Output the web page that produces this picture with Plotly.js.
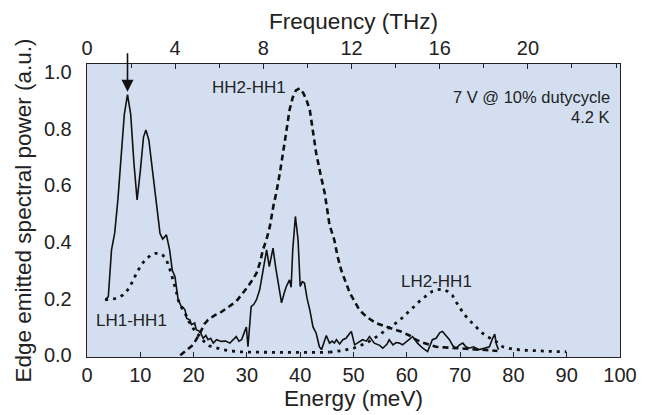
<!DOCTYPE html>
<html>
<head>
<meta charset="utf-8">
<script src="https://cdn.plot.ly/plotly-3.0.1.min.js"></script>
<style>html,body{margin:0;padding:0;background:#fff}#chart{width:649px;height:415px}</style>
</head>
<body>
<div id="chart"></div>
<script>
// Measured (experimental) edge emission spectrum
var measEnergy = [3.4,4.0,4.6,5.2,5.8,6.4,7.0,7.6,8.2,8.8,9.4,10.0,10.6,11.05,11.6,12.3,13.0,13.7,14.2,14.6,14.9,15.5,16.0,16.5,16.8,17.1,17.4,17.7,18.0,18.4,18.7,19.3,19.6,20.2,20.5,21.2,21.8,22.3,22.7,23.2,23.7,24.3,25.2,26.0,26.8,27.4,28.0,28.5,29.0,29.5,29.9,30.2,30.6,30.8,31.3,31.8,32.4,32.7,33.2,33.7,34.2,34.9,35.4,35.8,36.5,37.0,37.4,38.0,38.3,38.6,39.1,39.6,40.0,40.4,40.8,41.3,41.8,42.4,43.0,43.6,44.0,44.9,45.5,46.0,46.4,46.8,47.4,48.0,48.6,49.3,49.6,50.2,50.8,51.7,52.4,53.0,53.9,54.9,55.5,56.3,56.7,57.4,58.0,58.6,59.2,60.0,61.1,62.0,63.0,63.9,64.8,65.5,66.2,66.7,67.3,68.0,68.6,69.2,69.9,70.5,71.1,71.7,72.5,73.6,74.5,75.5,76.1,76.5,76.8,77.2];
var measPower  = [0.196,0.207,0.372,0.432,0.55,0.70,0.85,0.92,0.85,0.68,0.548,0.65,0.77,0.795,0.76,0.65,0.55,0.43,0.41,0.42,0.425,0.372,0.30,0.278,0.231,0.196,0.184,0.172,0.17,0.16,0.13,0.125,0.108,0.114,0.09,0.084,0.06,0.07,0.055,0.06,0.043,0.055,0.049,0.05,0.043,0.055,0.066,0.05,0.055,0.08,0.10,0.03,0.12,0.172,0.18,0.196,0.231,0.266,0.33,0.372,0.313,0.378,0.31,0.266,0.185,0.22,0.243,0.266,0.24,0.372,0.49,0.407,0.243,0.26,0.255,0.2,0.16,0.1,0.078,0.03,0.02,0.07,0.043,0.05,0.043,0.055,0.04,0.055,0.06,0.078,0.084,0.037,0.045,0.055,0.05,0.066,0.043,0.035,0.025,0.04,0.055,0.037,0.045,0.043,0.037,0.05,0.066,0.043,0.025,0.013,0.055,0.06,0.08,0.084,0.07,0.055,0.035,0.025,0.037,0.043,0.03,0.025,0.03,0.02,0.025,0.03,0.06,0.075,0.04,0.02];

// HH2-HH1 transition (dashed)
var hh2Energy = [17.5,18.5,19.9,21.2,22.0,22.7,24.0,24.9,26.0,27.1,28.2,29.3,30.2,31.0,31.8,32.5,33.0,33.7,34.3,35.0,35.5,36.2,36.8,37.4,38.0,38.6,39.2,39.9,40.6,41.2,41.8,42.4,43.0,43.8,44.6,45.5,46.4,47.0,47.7,48.5,49.3,50.2,51.1,52.5,54.2,55.8,57.4,59.0,60.5,61.7,63.0,64.2,65.5,67.0,69.0,71.0,73.5,75.5,77.0];
var hh2Power  = [0.0,0.015,0.037,0.078,0.11,0.125,0.142,0.149,0.163,0.178,0.195,0.22,0.243,0.265,0.29,0.33,0.372,0.41,0.454,0.53,0.572,0.645,0.713,0.79,0.866,0.91,0.935,0.942,0.925,0.9,0.866,0.79,0.713,0.64,0.572,0.46,0.407,0.35,0.30,0.26,0.22,0.19,0.16,0.135,0.114,0.103,0.093,0.083,0.07,0.055,0.045,0.037,0.03,0.028,0.025,0.022,0.02,0.018,0.015];

// LH1-HH1 transition (dotted)
var lh1Energy = [3.4,4.5,5.2,6.0,6.8,7.6,8.4,9.3,10.2,11.1,12.1,12.9,13.7,14.3,14.9,15.6,16.2,16.7,17.1,17.7,18.4,19.1,19.9,20.5,21.2,22.0,23.0,24.3,25.5,26.8,28.7,31,34,37,40,43,45.5];
var lh1Power  = [0.196,0.198,0.2,0.205,0.213,0.23,0.255,0.29,0.32,0.34,0.355,0.36,0.36,0.352,0.337,0.30,0.266,0.23,0.196,0.17,0.149,0.12,0.096,0.08,0.066,0.048,0.033,0.025,0.02,0.016,0.012,0.011,0.01,0.01,0.01,0.01,0.011];

// LH2-HH1 transition (dotted)
var lh2Energy = [45.5,48,50,51.5,52.4,53.7,54.9,56.1,57.4,58.0,59.0,59.9,60.8,61.7,62.6,63.6,64.8,65.8,66.7,67.6,68.6,69.2,70.0,70.5,71.4,72.3,73.3,74.2,75.2,76.1,77.3,78.0,79.8,82,84,86,88,89.9];
var lh2Power  = [0.011,0.017,0.025,0.035,0.043,0.058,0.072,0.09,0.105,0.114,0.13,0.145,0.162,0.178,0.195,0.21,0.226,0.232,0.233,0.226,0.21,0.19,0.166,0.152,0.13,0.114,0.093,0.078,0.065,0.055,0.042,0.03,0.022,0.018,0.016,0.014,0.013,0.013];

// Axis tick labels
var energyTicks = [0,10,20,30,40,50,60,70,80,90,100];
var freqTicks = [0,4,8,12,16,20];
var powerTicks = [0,0.2,0.4,0.6,0.8,1.0];

var meVperTHz = 4.136;
var energyRange = [0, 100];
var freqRange = [0, energyRange[1] / meVperTHz];

var FONT = 'Liberation Sans, Arial, Helvetica, sans-serif';

var traces = [
  {x: measEnergy, y: measPower, mode: 'lines', line: {color: '#111', width: 1.6}, hoverinfo: 'skip', showlegend: false},
  {x: hh2Energy, y: hh2Power, mode: 'lines', line: {color: '#111', width: 2.6, dash: '6px,4px'}, hoverinfo: 'skip', showlegend: false},
  {x: lh1Energy, y: lh1Power, mode: 'lines', line: {color: '#111', width: 2.8, dash: '3px,5px'}, hoverinfo: 'skip', showlegend: false},
  {x: lh2Energy, y: lh2Power, mode: 'lines', line: {color: '#111', width: 2.8, dash: '3px,5px'}, hoverinfo: 'skip', showlegend: false},
  {x: freqRange, y: [0, 0], xaxis: 'x2', mode: 'none', hoverinfo: 'skip', showlegend: false}
];

var layout = {
  width: 649, height: 415,
  margin: {l: 87, r: 29, t: 64, b: 58, pad: 0},
  paper_bgcolor: '#ffffff',
  plot_bgcolor: '#d3dff0',
  font: {family: FONT, color: '#222', size: 20},
  xaxis: {
    range: energyRange, tickmode: 'array', tickvals: energyTicks,
    ticks: 'inside', ticklen: 5, tickwidth: 1, tickcolor: '#222',
    showline: true, linecolor: '#222', linewidth: 1.3, mirror: false,
    showgrid: false, zeroline: false,
    tickfont: {size: 20},
    title: {text: 'Energy (meV)', font: {size: 22.5}, standoff: 2}
  },
  xaxis2: {
    overlaying: 'x', side: 'top', anchor: 'y',
    range: freqRange, tickmode: 'array', tickvals: freqTicks,
    ticks: 'inside', ticklen: 5, tickwidth: 1, tickcolor: '#222',
    minor: {ticks: 'inside', dtick: 2, tick0: 0, ticklen: 4, tickcolor: '#222'},
    showline: true, linecolor: '#222', linewidth: 1.3,
    showgrid: false, zeroline: false,
    tickfont: {size: 20},
    title: {text: 'Frequency (THz)', font: {size: 22.5}, standoff: 0}
  },
  yaxis: {
    range: [-0.006, 1.028], tickmode: 'array', tickvals: powerTicks, tickformat: '.1f',
    ticks: '', showline: true, linecolor: '#222', linewidth: 1.3, mirror: true,
    showgrid: false, zeroline: false,
    tickfont: {size: 20}, ticklabelstandoff: 10,
    title: {text: 'Edge emitted spectral power (a.u.)', font: {size: 22.5}, standoff: 6}
  },
  annotations: [
    {x: 7.6, y: 0.93, xref: 'x', yref: 'y', text: '', showarrow: true,
     ax: 0, ay: -40, arrowhead: 2, arrowsize: 1.5, arrowwidth: 1.6, arrowcolor: '#111', standoff: 0},
    {x: 30.3, y: 0.944, xref: 'x', yref: 'y', text: 'HH2-HH1', showarrow: false, font: {size: 17}},
    {x: 8.4, y: 0.122, xref: 'x', yref: 'y', text: 'LH1-HH1', showarrow: false, font: {size: 17}},
    {x: 65.6, y: 0.262, xref: 'x', yref: 'y', text: 'LH2-HH1', showarrow: false, font: {size: 17}},
    {x: 98.5, y: 0.912, xref: 'x', yref: 'y', xanchor: 'right', text: '7 V @ 10% dutycycle', showarrow: false, font: {size: 16.5}},
    {x: 98.5, y: 0.842, xref: 'x', yref: 'y', xanchor: 'right', text: '4.2 K', showarrow: false, font: {size: 16.5}}
  ]
};

Plotly.newPlot('chart', traces, layout, {staticPlot: true, displayModeBar: false});
</script>
</body>
</html>
